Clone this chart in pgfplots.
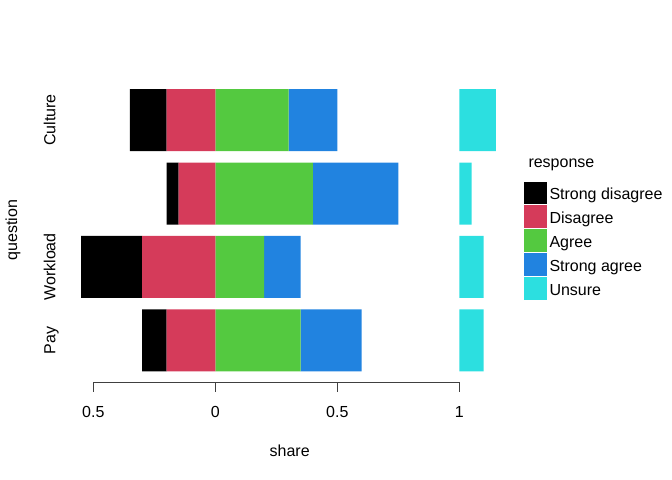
\documentclass[border=0pt]{standalone}
\usepackage{pgfplots}
\pgfplotsset{compat=1.18}
\usepackage{fontspec}
\setmainfont{Liberation Sans}
\definecolor{cSD}{HTML}{000000}
\definecolor{cD}{HTML}{D53B5A}
\definecolor{cA}{HTML}{54C940}
\definecolor{cSA}{HTML}{2183E0}
\definecolor{cU}{HTML}{2CDFE0}
\begin{document}
\fontsize{16bp}{19bp}\selectfont
\begin{tikzpicture}
\useasboundingbox (0,0) rectangle (672bp,480bp);
\begin{axis}[
  at={(93.3bp,97.7bp)}, anchor=south west,
  scale only axis, width=366bp, height=298.9bp,
  xmin=-0.5, xmax=1, ymin=0.428, ymax=4.5,
  clip=false,
  xbar stacked, bar width=62bp,
  axis x line*=bottom, axis y line*=left,
  axis line style={-, line width=0.9bp, draw=black!75},
  y axis line style={draw=none},
  xtick={-0.5,0,0.5,1}, xticklabels={{0.5},{0},{0.5},{1}},
  tick align=outside, major tick length=9.5bp,
  xtick style={line width=0.9bp, draw=black!75},
  xticklabel style={anchor=base, yshift=-25.5bp, font=\fontsize{16bp}{19bp}\selectfont},
  ytick={1,2,4}, yticklabels={Pay,Workload,Culture},
  ytick style={draw=none},
  yticklabel style={xshift=-28.5bp, rotate=90, anchor=base, font=\fontsize{16bp}{19bp}\selectfont},
]
% negatives stack leftwards from 0: Disagree, then Strong disagree
\addplot[fill=cD, draw=none] coordinates {(-0.2,1) (-0.3,2) (-0.15,3) (-0.2,4)};
\addplot[fill=cSD, draw=none] coordinates {(-0.1,1) (-0.25,2) (-0.05,3) (-0.15,4)};
% positives stack rightwards from 0: Agree, Strong agree
\addplot[fill=cA, draw=none] coordinates {(0.35,1) (0.2,2) (0.4,3) (0.3,4)};
\addplot[fill=cSA, draw=none] coordinates {(0.25,1) (0.15,2) (0.35,3) (0.2,4)};
% invisible gap up to 1
\addplot[fill=none, draw=none] coordinates {(0.4,1) (0.65,2) (0.25,3) (0.5,4)};
% Unsure
\addplot[fill=cU, draw=none] coordinates {(0.1,1) (0.1,2) (0.05,3) (0.15,4)};
\end{axis}
% legend
\node[anchor=base west, inner sep=0pt] at (528.3bp,312.7bp) {response};
\foreach \c/\t [count=\i from 0] in {cSD/Strong disagree,cD/Disagree,cA/Agree,cSA/Strong agree,cU/Unsure}{
  \fill[\c] (524bp,{480bp-181.7bp-23.8bp*\i}) rectangle (546.7bp,{480bp-204.5bp-23.8bp*\i});
  \node[anchor=base west, inner sep=0pt] at (549.3bp,{480bp-200bp-23.8bp*\i}) {\t};
}
\node[anchor=base, inner sep=0pt] at (289.7bp,24bp) {share};
\node[rotate=90, anchor=base, inner sep=0pt] at (17bp,249.7bp) {question};
\end{tikzpicture}
\end{document}
